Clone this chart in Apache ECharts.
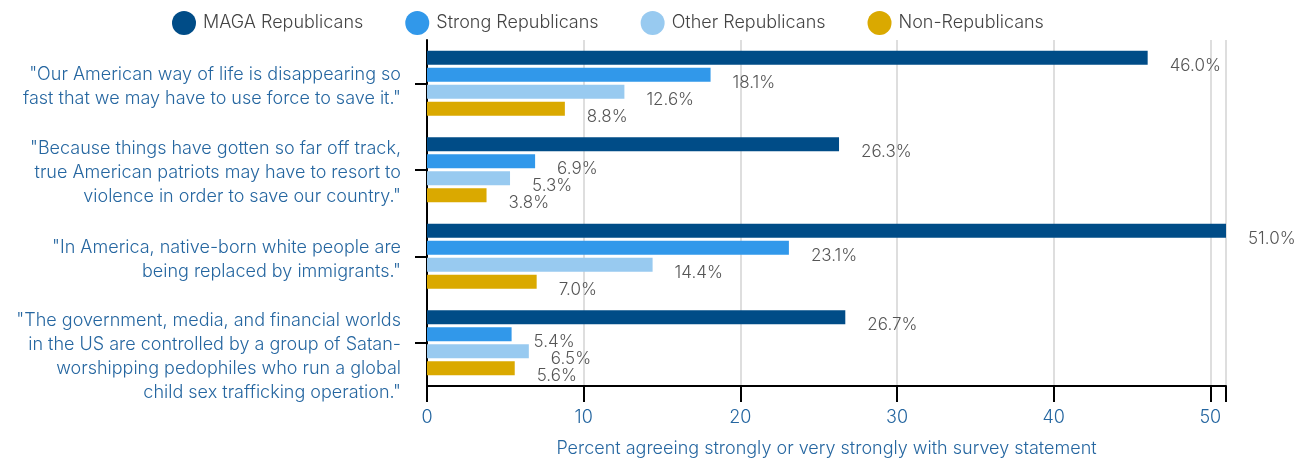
<!DOCTYPE html>
<html>
<head>
<meta charset="utf-8">
<script src="https://cdn.jsdelivr.net/npm/echarts@6/dist/echarts.min.js"></script>
<style>
html,body{margin:0;padding:0;background:#fff;}
#chart{width:1295px;height:459px;}
</style>
</head>
<body>
<div id="chart"></div>
<script>
const categories = [
  '"Our American way of life is disappearing so\nfast that we may have to use force to save it."',
  '"Because things have gotten so far off track,\ntrue American patriots may have to resort to\nviolence in order to save our country."',
  '"In America, native-born white people are\nbeing replaced by immigrants."',
  '"The government, media, and financial worlds\nin the US are controlled by a group of Satan-\nworshipping pedophiles who run a global\nchild sex trafficking operation."'
];
const seriesNames = ['MAGA Republicans', 'Strong Republicans', 'Other Republicans', 'Non-Republicans'];
const magaValues = [46.0, 26.3, 51.0, 26.7];
const strongValues = [18.1, 6.9, 23.1, 5.4];
const otherValues = [12.6, 5.3, 14.4, 6.5];
const nonValues = [8.8, 3.8, 7.0, 5.6];
const xTicks = [0, 10, 20, 30, 40, 50];

const colors = ['#004c87', '#3198ea', '#98caf0', '#daa900'];
const allValues = [magaValues, strongValues, otherValues, nonValues];
const labelShift = [6, 6, 6, 28];
const font = 'Inter, "Open Sans", sans-serif';
const blue = '#2566a0';
const weight = 300;

const chart = echarts.init(document.getElementById('chart'));
chart.setOption({
  animation: false,
  color: colors,
  textStyle: { fontFamily: font, fontWeight: weight },
  legend: {
    top: 6,
    left: 167,
    icon: 'circle',
    itemWidth: 24,
    itemHeight: 24,
    itemGap: 42,
    textStyle: { fontSize: 18, color: '#444', fontFamily: font, fontWeight: weight, padding: [0, 0, 0, 2] },
    data: seriesNames
  },
  grid: { left: 427, right: 69, top: 40, bottom: 73, outerBoundsMode: 'none', containLabel: false },
  xAxis: {
    type: 'value',
    min: 0,
    max: 51,
    interval: 10,
    name: 'Percent agreeing strongly or very strongly with survey statement',
    nameLocation: 'middle',
    nameGap: 54,
    nameTextStyle: { fontSize: 18, color: blue, fontFamily: font, fontWeight: weight },
    axisLine: { show: true, lineStyle: { color: '#000', width: 2 } },
    axisTick: { show: true, length: 16, lineStyle: { color: '#000', width: 2 } },
    axisLabel: {
      fontSize: 18, color: blue, fontFamily: font, fontWeight: weight, margin: 23,
      formatter: v => xTicks.includes(v) ? String(v) : ''
    },
    splitLine: { show: true, lineStyle: { color: '#dedede', width: 2 } }
  },
  yAxis: {
    type: 'category',
    inverse: true,
    data: categories,
    axisLine: { show: true, lineStyle: { color: '#000', width: 2 } },
    axisTick: { show: true, alignWithLabel: true, length: 12, lineStyle: { color: '#000', width: 2 } },
    axisLabel: {
      interval: 0,
      hideOverlap: false,
      fontSize: 18, color: blue, fontFamily: font, fontWeight: weight, margin: 26,
      lineHeight: 24, align: 'right',
      formatter: (v, i) => '{p' + i + '|}\n' + v,
      rich: {
        p0: { lineHeight: labelShift[0] },
        p1: { lineHeight: labelShift[1] },
        p2: { lineHeight: labelShift[2] },
        p3: { lineHeight: labelShift[3] }
      }
    }
  },
  series: seriesNames.map((name, i) => ({
    name: name,
    type: 'bar',
    data: allValues[i],
    barWidth: 14,
    barGap: '22%',
    itemStyle: { color: colors[i] },
    label: {
      show: true,
      position: 'right',
      distance: 22,
      offset: [0, 8],
      fontSize: 17,
      color: '#555',
      fontFamily: font,
      fontWeight: weight,
      formatter: p => p.value.toFixed(1) + '%'
    }
  }))
});
</script>
</body>
</html>
